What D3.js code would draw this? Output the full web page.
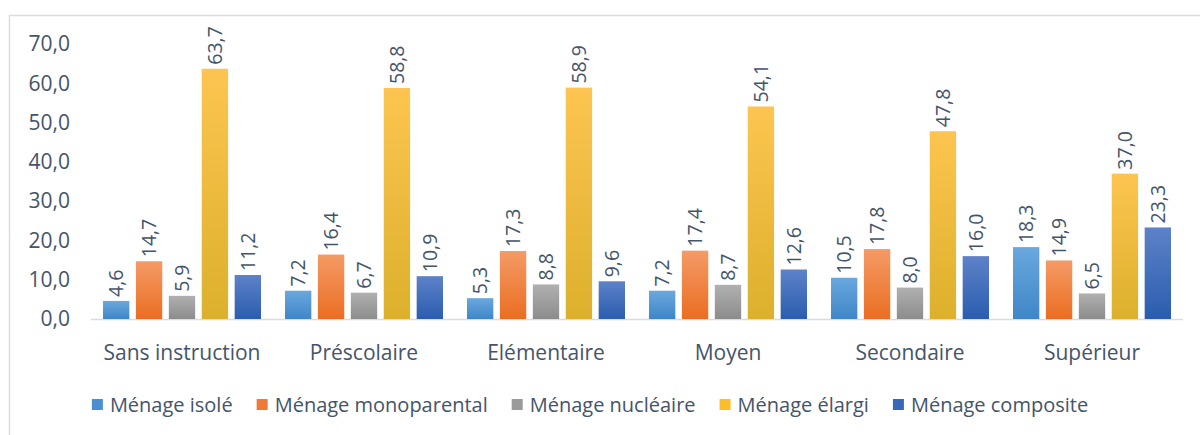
<!DOCTYPE html>
<meta charset="utf-8">
<style>
body { margin: 0; background: #fff; }
text { font-family: "Open Sans", sans-serif; fill: #44546a; }
</style>
<svg width="1200" height="435"></svg>
<script src="https://d3js.org/d3.v7.min.js"></script>
<script>

var categories = ["Sans instruction", "Préscolaire", "Elémentaire", "Moyen", "Secondaire", "Supérieur"]
var series = ["Ménage isolé", "Ménage monoparental", "Ménage nucléaire", "Ménage élargi", "Ménage composite"]

var isole       = [4.6, 7.2, 5.3, 7.2, 10.5, 18.3]
var monoparental = [14.7, 16.4, 17.3, 17.4, 17.8, 14.9]
var nucleaire   = [5.9, 6.7, 8.8, 8.7, 8.0, 6.5]
var elargi      = [63.7, 58.8, 58.9, 54.1, 47.8, 37.0]
var composite   = [11.2, 10.9, 9.6, 12.6, 16.0, 23.3]

var yTicks = [0, 10, 20, 30, 40, 50, 60, 70]

var values = [isole, monoparental, nucleaire, elargi, composite]

// top / bottom colours of each bar gradient
var colTop = ["#6aa8de", "#f59a66", "#b0b0b0", "#fdc550", "#5d82c8"]
var colBot = ["#3f86c8", "#ea6e22", "#8c8c8c", "#dcb02c", "#2a5daf"]
var colLegend = ["#4a90d0", "#ef7a35", "#9b9b9b", "#fbbd2a", "#3a68b8"]

var svg = d3.select("svg")

// outer frame
svg.append("rect").attr("x", 9.5).attr("y", 15.5).attr("width", 1300).attr("height", 500)
  .attr("fill", "none").attr("stroke", "#d5dde6").attr("stroke-width", 1.5)

var defs = svg.append("defs")
series.forEach(function(s, i) {
  var g = defs.append("linearGradient").attr("id", "g" + i)
    .attr("x1", 0).attr("y1", 0).attr("x2", 0).attr("y2", 1)
  g.append("stop").attr("offset", "0%").attr("stop-color", colTop[i])
  g.append("stop").attr("offset", "100%").attr("stop-color", colBot[i])
})

var y = d3.scaleLinear().domain([0, 70]).range([319, 44])
var x0 = d3.scaleBand().domain(categories).range([91, 1183]).paddingInner(0).paddingOuter(0)
var x1 = d3.scaleBand().domain(series).range([12, x0.bandwidth() - 12]).paddingInner(0.2).paddingOuter(0)

// y labels
svg.selectAll(".ytick").data(yTicks).enter().append("text")
  .attr("x", 70).attr("y", function(d) { return y(d) }).attr("dy", "0.35em")
  .attr("text-anchor", "end").style("font-size", "21px")
  .text(function(d) { return d.toFixed(1).replace(".", ",") })

// baseline
svg.append("line").attr("x1", 91).attr("x2", 1183).attr("y1", y(0) + 0.5).attr("y2", y(0) + 0.5)
  .attr("stroke", "#d5dde6").attr("stroke-width", 1.5)

var groups = svg.selectAll(".grp").data(categories).enter().append("g")
  .attr("transform", function(d) { return "translate(" + x0(d) + ",0)" })

groups.each(function(c, ci) {
  var g = d3.select(this)
  series.forEach(function(s, si) {
    var v = values[si][ci]
    g.append("rect").attr("x", x1(s)).attr("width", x1.bandwidth())
      .attr("y", y(v)).attr("height", y(0) - y(v))
      .attr("fill", "url(#g" + si + ")")
    var cx = x1(s) + x1.bandwidth() / 2
    g.append("text")
      .attr("transform", "translate(" + (cx) + "," + (y(v) - 4) + ") rotate(-90)")
      .attr("dy", "0.35em").style("font-size", "19.5px")
      .text(v.toFixed(1).replace(".", ","))
  })
  g.append("text").attr("x", x0.bandwidth() / 2).attr("y", 360)
    .attr("text-anchor", "middle").style("font-size", "21px").text(c)
})

// legend
var legend = svg.append("g")
var lx = 0
series.forEach(function(s, i) {
  var it = legend.append("g").attr("transform", "translate(" + lx + ",0)")
  it.append("rect").attr("x", 0).attr("y", -6).attr("width", 11).attr("height", 11).attr("fill", colLegend[i])
  var t = it.append("text").attr("x", 18).attr("y", 0).attr("dy", "0.35em").style("font-size", "20px").text(s)
  lx += 18 + t.node().getComputedTextLength() + 24
})
var lw = lx - 24
legend.attr("transform", "translate(" + (590 - lw / 2) + ",405)")

</script>
